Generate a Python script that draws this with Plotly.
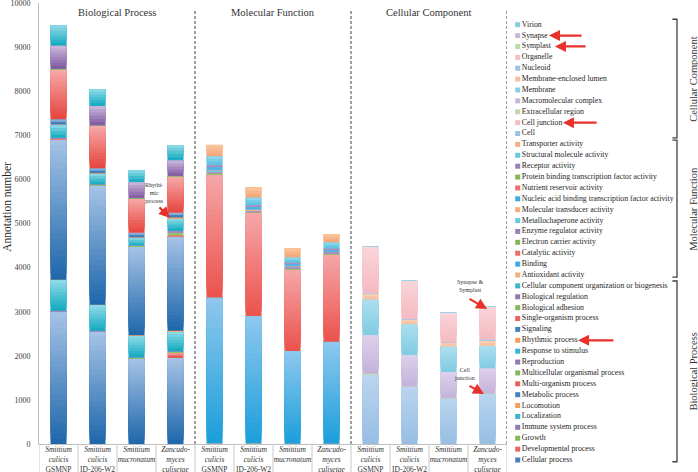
import plotly.graph_objects as go

# ---------------- data ----------------
strain_labels = [
    "<i>Smittium</i><br><i>culicis</i><br>GSMNP",
    "<i>Smittium</i><br><i>culicis</i><br>ID-206-W2",
    "<i>Smittium</i><br><i>mucronatum</i>",
    "<i>Zancudo-</i><br><i>myces</i><br><i>culisetae</i>",
]
group_names = ["Biological Process", "Molecular Function", "Cellular Component"]

bp_terms = ["Cellular process", "Developmental process", "Growth", "Immune system process",
            "Localization", "Locomotion", "Metabolic process", "Multi-organism process",
            "Multicellular organismal process", "Reproduction", "Response to stimulus",
            "Rhythmic process", "Signaling", "Single-organism process", "Biological adhesion",
            "Biological regulation", "Cellular component organization or biogenesis"]
bp_sc_gsmnp = [3000, 10, 5, 5, 700, 5, 3180, 15, 5, 15, 300, 5, 120, 1135, 5, 530, 460]
bp_sc_id206 = [2545, 10, 5, 5, 590, 5, 2700, 10, 5, 10, 250, 5, 115, 965, 5, 440, 385]
bp_sm = [1940, 10, 5, 5, 500, 5, 2010, 10, 5, 10, 180, 5, 105, 780, 5, 365, 270]
bp_zc = [1950, 120, 20, 10, 460, 10, 2130, 30, 60, 40, 290, 15, 110, 820, 10, 360, 345]

mf_terms = ["Antioxidant activity", "Binding", "Catalytic activity", "Electron carrier activity",
            "Enzyme regulator activity", "Metallochaperone activity", "Molecular transducer activity",
            "Nucleic acid binding transcription factor activity", "Nutrient reservoir activity",
            "Protein binding transcription factor activity", "Receptor activity",
            "Structural molecule activity", "Transporter activity"]
mf_sc_gsmnp = [10, 3310, 2800, 15, 55, 5, 5, 90, 2, 5, 30, 200, 255]
mf_sc_id206 = [10, 2890, 2340, 10, 50, 5, 5, 80, 2, 3, 20, 175, 230]
mf_sm = [5, 2105, 1855, 10, 40, 5, 5, 60, 2, 3, 20, 125, 205]
mf_zc = [5, 2315, 1985, 10, 45, 5, 5, 45, 2, 3, 15, 140, 180]

cc_terms = ["Cell", "Cell junction", "Extracellular region", "Macromolecular complex", "Membrane",
            "Membrane-enclosed lumen", "Nucleoid", "Organelle", "Symplast", "Synapse", "Virion"]
cc_sc_gsmnp = [1585, 0, 5, 880, 805, 140, 5, 1050, 0, 0, 3]
cc_sc_id206 = [1300, 0, 3, 715, 700, 110, 5, 865, 0, 0, 2]
cc_sm = [1030, 0, 3, 600, 575, 90, 4, 675, 0, 0, 2]
cc_zc = [1135, 2, 3, 578, 505, 135, 5, 750, 1, 1, 1]

y_ticks = [0, 1000, 2000, 3000, 4000, 5000, 6000, 7000, 8000, 9000, 10000]

groups = [
    (bp_terms, [bp_sc_gsmnp, bp_sc_id206, bp_sm, bp_zc]),
    (mf_terms, [mf_sc_gsmnp, mf_sc_id206, mf_sm, mf_zc]),
    (cc_terms, [cc_sc_gsmnp, cc_sc_id206, cc_sm, cc_zc]),
]

# ---------------- styles ----------------
cycle = ["blue", "red", "green", "purple", "cyan", "orange"]
grad = [
    {"blue": ("#1d66aa", "#a6c4e6"), "red": ("#e6443d", "#f6aaaa"), "green": ("#6aa83c", "#bcdc9c"),
     "purple": ("#7d569f", "#cdbcdd"), "cyan": ("#0fa8c0", "#94dce9"), "orange": ("#ee8a40", "#fac9a2")},
    {"blue": ("#1a9edb", "#8fc8ee"), "red": ("#ec524c", "#f5a7a9"), "green": ("#6aa83c", "#bcdc9c"),
     "purple": ("#8a68aa", "#c8b6da"), "cyan": ("#52c0dc", "#98d9ed"), "orange": ("#f4a272", "#fac9a2")},
    {"blue": ("#97bee3", "#bad5ef"), "red": ("#f4bac1", "#f9d5d9"), "green": ("#b8d8a0", "#d4e8c4"),
     "purple": ("#c4b2da", "#ddd1eb"), "cyan": ("#80cbe3", "#acdfef"), "orange": ("#f6bd98", "#fad3b8")},
]
legend_mix = [0.3, 0.3, 0.15]
FONT = "'Liberation Serif', 'Times New Roman', Times, serif"


def hx(c):
    return [int(c[i:i + 2], 16) for i in (1, 3, 5)]


def mix(c0, c1, t):
    a, b = hx(c0), hx(c1)
    return "rgb(%d,%d,%d)" % tuple(round(a[i] + (b[i] - a[i]) * t) for i in range(3))


PX_PER_UNIT = 441 / 10000.0
BAR_W = 0.41

fig = go.Figure()
legend_names, legend_colors = [], []
gidx = 0
for g, (terms, cols) in enumerate(groups):
    xs = [g * 4 + j for j in range(4)]
    cum = [0.0] * 4
    for t, term in enumerate(terms):
        fam = cycle[gidx % 6]
        c0, c1 = grad[g][fam]
        legend_names.append(term)
        legend_colors.append(mix(c0, c1, legend_mix[g]))
        vals = [cols[j][t] for j in range(4)]
        nsl = [max(1, min(24, round(v * PX_PER_UNIT / 3))) for v in vals]
        for k in range(max(nsl)):
            bx, by, bb, bc = [], [], [], []
            for j in range(4):
                v = vals[j]
                if v <= 0 or k >= nsl[j]:
                    continue
                step = v / nsl[j]
                bx.append(xs[j])
                bb.append(cum[j] + k * step)
                by.append(v - k * step)
                bc.append(mix(c0, c1, (k + 0.5) / nsl[j]))
            if bx:
                fig.add_trace(go.Bar(x=bx, y=by, base=bb, width=BAR_W,
                                     marker=dict(color=bc, line=dict(width=0)),
                                     name=term, showlegend=False, hoverinfo="skip"))
        cum = [cum[j] + vals[j] for j in range(4)]
        gidx += 1

# ---------------- legend (own axis) ----------------
n_items = len(legend_names)
fig.add_trace(go.Scatter(
    x=[0.056] * n_items, y=list(range(n_items)), mode="markers+text",
    marker=dict(symbol="square", size=5, color=legend_colors, line=dict(width=0)),
    text=legend_names, textposition="middle right",
    textfont=dict(family=FONT, size=7.8, color="#262626"),
    xaxis="x2", yaxis="y2", showlegend=False, hoverinfo="skip", cliponaxis=False))

Y_BOT = (472 - 444) / 469.0
x_dom = (507 - 39) / 659.0

shapes = []
for xv in [3.5, 7.5, 11.5]:
    shapes.append(dict(type="line", xref="x", yref="y", x0=xv, x1=xv, y0=0, y1=9830,
                       line=dict(color="#7f7f7f", width=1.5, dash="3px,2px")))
for b in range(13):
    shapes.append(dict(type="line", xref="x", yref="paper", x0=b - 0.5, x1=b - 0.5, y0=Y_BOT, y1=0,
                       line=dict(color="#c8c8c8", width=1)))
br_x, br_t = 0.890, 0.866
bracket_spans = [(-0.16, 16.45), (16.8, 29.4), (29.6, 40.5)]
for (lo, hi) in bracket_spans:
    shapes.append(dict(type="path", xref="x2", yref="y2",
                       path="M %f,%f L %f,%f L %f,%f L %f,%f" % (br_t, hi, br_x, hi, br_x, lo, br_t, lo),
                       line=dict(color="#404040", width=1.3)))

annotations = []
for g, name in enumerate(group_names):
    annotations.append(dict(x=g * 4 + 1.5, y=9790, xref="x", yref="y", text=name, showarrow=False,
                            font=dict(family=FONT, size=10.5, color="#333333")))
for (lo, hi), name in zip(bracket_spans, group_names):
    annotations.append(dict(x=0.975, y=(lo + hi) / 2, xref="x2", yref="y2", text=name, showarrow=False,
                            textangle=-90, font=dict(family=FONT, size=10.5, color="#333333")))
annotations.append(dict(x=-0.061, y=5374, xref="paper", yref="y", text="Annotation number",
                        showarrow=False, textangle=-90, font=dict(family=FONT, size=11.5, color="#262626")))

notes = [("Rhythi-<br>mic<br>process", 2.47, 5690), ("Synapse &<br>Symplast", 10.55, 3580),
         ("Cell<br>junction", 10.4, 1580)]
for txt, xv, yv in notes:
    annotations.append(dict(x=xv, y=yv, xref="x", yref="y", text=txt, showarrow=False,
                            font=dict(family=FONT, size=6, color="#333333")))
red = "#e8312b"
arrows_main = [((2.86, 5125), (2.55, 5400)), ((10.99, 3060), (10.5, 3310)), ((10.91, 1134), (10.5, 1338))]
for (hxv, hyv), (txv, tyv) in arrows_main:
    annotations.append(dict(x=hxv, y=hyv, ax=txv, ay=tyv, xref="x", yref="y", axref="x", ayref="y",
                            text="", showarrow=True, arrowhead=2, arrowsize=1, arrowwidth=2.2,
                            arrowcolor=red, standoff=0))
arrows_leg = [(39, 0.220, 0.398), (38, 0.251, 0.419), (31, 0.293, 0.477), (11, 0.372, 0.565)]
for iv, hxv, txv in arrows_leg:
    annotations.append(dict(x=hxv, y=iv, ax=txv, ay=iv, xref="x2", yref="y2", axref="x2", ayref="y2",
                            text="", showarrow=True, arrowhead=2, arrowsize=1, arrowwidth=2.2,
                            arrowcolor=red, standoff=0))

fig.update_layout(
    width=698, height=472, margin=dict(l=39, r=0, t=3, b=0, autoexpand=False),
    paper_bgcolor="white", plot_bgcolor="white", barmode="overlay",
    font=dict(family=FONT, color="#333333"),
    xaxis=dict(domain=[0, x_dom], range=[-0.5, 11.5], tickvals=list(range(12)),
               ticktext=strain_labels * 3, showline=True, linecolor="#bfbfbf", linewidth=1,
               showgrid=False, zeroline=False, ticks="", tickangle=0, ticklabelstandoff=-2,
               ticklabeloverflow="allow",
               tickfont=dict(family=FONT, size=7.5, color="#333333"), automargin=False, fixedrange=True),
    yaxis=dict(domain=[Y_BOT, 1], range=[0, 10000], tickvals=y_ticks, tickformat="d",
               showline=True, linecolor="#bfbfbf",
               linewidth=1, showgrid=False, zeroline=False, ticks="", ticklabelstandoff=6,
               ticklabeloverflow="allow",
               tickfont=dict(family=FONT, size=8, color="#404040"), automargin=False, fixedrange=True),
    xaxis2=dict(domain=[x_dom, 1], range=[0, 1], visible=False, anchor="y2", fixedrange=True),
    yaxis2=dict(domain=[0, 1], range=[-1.103, 41.994], visible=False, anchor="x2", fixedrange=True),
    shapes=shapes, annotations=annotations, showlegend=False,
)

fig.write_html("out.html", config={"displayModeBar": False},
               post_script="document.body.style.margin='0';document.body.style.overflow='hidden';")
